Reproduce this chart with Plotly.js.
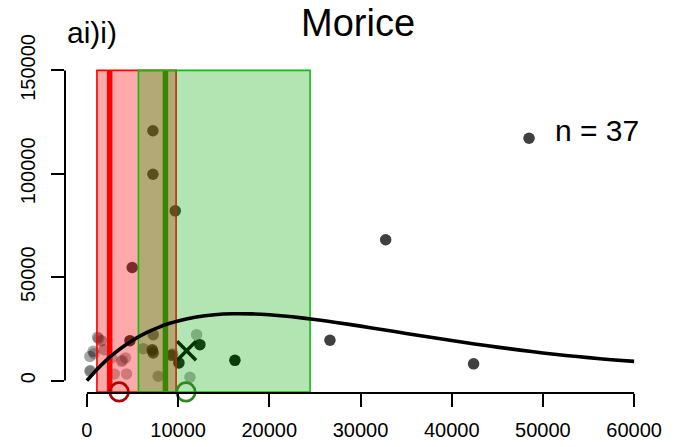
<!DOCTYPE html>
<html>
<head>
<meta charset="utf-8">
<script src="https://cdn.plot.ly/plotly-3.0.1.min.js"></script>
<style>
  html, body { margin: 0; padding: 0; background: #fff; }
  #chart { width: 681px; height: 447px; }
</style>
</head>
<body>
<div id="chart"></div>
<script>
// Spawner / recruit observations (n = 37) and per-point shading
const spawners = [48480, 32760, 26650, 42400, 16230, 7240, 7240, 9690, 4970,
  1170, 1610, 330, 690, 1900, 330, 2710, 3800, 4240, 4350, 3000, 4720,
  7270, 7160, 7270, 6180, 7820, 9290, 10090, 12030, 12390, 11300,
  800, 1300, 7200, 3900, 9400, 400];
const recruits = [117200, 68100, 19500, 8100, 9800, 120800, 99800, 82100, 54700,
  20900, 19300, 11700, 14150, 14970, 4500, 10960, 9320, 10960, 3230, 3230, 19310,
  22200, 14970, 13360, 15450, 2080, 12210, 8550, 22200, 17380, 1600,
  13000, 20200, 14300, 9800, 12900, 4900];
const pointAlpha = [0.75, 0.75, 0.75, 0.75, 0.95, 0.75, 0.75, 0.75, 0.75,
  0.35, 0.35, 0.35, 0.35, 0.35, 0.35, 0.28, 0.28, 0.28, 0.28, 0.28, 0.8,
  0.55, 0.7, 0.7, 0.35, 0.35, 0.7, 0.9, 0.3, 0.9, 0.3,
  0.25, 0.25, 0.4, 0.2, 0.4, 0.25];

// Fitted stock-recruit curve
const curveX = [0, 1000, 2000, 3000, 4000, 5000, 6000, 7000, 8000, 9000, 10000,
  12000, 14000, 16000, 18000, 20000, 22500, 25000, 27500, 30000, 32500, 35000,
  37500, 40000, 42500, 45000, 47500, 50000, 52500, 55000, 57500, 60000];
const curveY = [0, 4930, 9290, 13140, 16500, 19430, 21970, 24160, 26010, 27570, 28870,
  30750, 31850, 32310, 32270, 31830, 30860, 29550, 28010, 26330, 24580, 22810,
  21060, 19360, 17730, 16180, 14720, 13350, 12170, 11100, 10100, 9300];

// Reference intervals (red and green bands) and their central values
const redBand = [1100, 9780];
const greenBand = [5650, 24470];
const bandY = [-5500, 150000];
const redCentre = 2500;
const greenCentre = 8610;

// Summary markers
const crossPoint = [10930, 14480];
const redRing = [3540, -5500];
const greenRing = [10860, -5500];

// Axis ticks
const xTicks = [0, 10000, 20000, 30000, 40000, 50000, 60000];
const yTicks = [0, 50000, 100000, 150000];

const FONT = '"Liberation Sans", Arial, Helvetica, sans-serif';

function band(r, fill, edge) {
  return {
    type: 'scatter', mode: 'lines', hoverinfo: 'skip',
    x: [r[0], r[1], r[1], r[0], r[0]],
    y: [bandY[0], bandY[0], bandY[1], bandY[1], bandY[0]],
    fill: 'toself', fillcolor: fill,
    line: { color: edge, width: 1.6 }
  };
}
function vline(x, color) {
  return {
    type: 'scatter', mode: 'lines', hoverinfo: 'skip',
    x: [x, x], y: bandY,
    line: { color: color, width: 5.5 }
  };
}

const traces = [
  {
    type: 'scatter', mode: 'markers', x: spawners, y: recruits,
    marker: { color: '#000', size: 11.5, opacity: pointAlpha, line: { width: 0 } }
  },
  {
    type: 'scatter', mode: 'markers', x: [crossPoint[0]], y: [crossPoint[1]],
    marker: { symbol: 'x-thin-open', size: 19, color: '#000', line: { color: '#000', width: 3.5 } }
  },
  vline(redCentre, '#ff0000'),
  vline(greenCentre, '#00b400'),
  band(redBand, 'rgba(255,0,0,0.333)', '#ff0000'),
  band(greenBand, 'rgba(0,170,0,0.3)', '#11bb11'),
  {
    type: 'scatter', mode: 'lines', x: curveX, y: curveY,
    line: { color: '#000', width: 3.6, shape: 'spline', smoothing: 0.5 }
  },
  {
    type: 'scatter', mode: 'markers', cliponaxis: false,
    x: [redRing[0]], y: [redRing[1]],
    marker: { symbol: 'circle-open', size: 18.5, color: '#b00000', line: { color: '#b00000', width: 2.7 } }
  },
  {
    type: 'scatter', mode: 'markers', cliponaxis: false,
    x: [greenRing[0]], y: [greenRing[1]],
    marker: { symbol: 'circle-open', size: 18.5, color: '#2e8b22', line: { color: '#2e8b22', width: 2.7 } }
  }
];

const axisCommon = {
  showgrid: false, zeroline: false, showline: false,
  ticks: 'outside', ticklen: 13, tickwidth: 2, tickcolor: '#000',
  tickfont: { family: FONT, size: 20, color: '#000' }
};

const layout = {
  width: 681, height: 447,
  margin: { l: 65, r: 25, t: 58, b: 54 },
  paper_bgcolor: '#fff', plot_bgcolor: '#fff',
  showlegend: false,
  font: { family: FONT, color: '#000' },
  xaxis: Object.assign({}, axisCommon, {
    range: [-2400, 62400], tickvals: xTicks, ticktext: xTicks.map(String),
    ticklabelstandoff: 6
  }),
  yaxis: Object.assign({}, axisCommon, {
    range: [-6000, 156000], tickvals: yTicks, ticktext: yTicks.map(String),
    tickangle: -90, ticklabelstandoff: 8
  }),
  shapes: [
    { type: 'line', xref: 'x', yref: 'paper', x0: 0, x1: 60000, y0: 0, y1: 0,
      line: { color: '#000', width: 2 }, layer: 'above' },
    { type: 'line', xref: 'paper', yref: 'y', x0: 0, x1: 0, y0: 0, y1: 150000,
      line: { color: '#000', width: 2 }, layer: 'above' }
  ],
  annotations: [
    { text: 'Morice', xref: 'paper', yref: 'paper', x: 0.495, y: 1.105,
      xanchor: 'center', yanchor: 'middle', showarrow: false,
      font: { family: FONT, size: 38, color: '#000' } },
    { text: 'ai)i)', xref: 'paper', yref: 'paper', x: 0, y: 1.0776,
      xanchor: 'left', yanchor: 'middle', showarrow: false,
      font: { family: FONT, size: 30, color: '#000' } },
    { text: 'n = 37', xref: 'paper', yref: 'paper', x: 0.8257, y: 0.784,
      xanchor: 'left', yanchor: 'middle', showarrow: false,
      font: { family: FONT, size: 30, color: '#000' } }
  ]
};

Plotly.newPlot('chart', traces, layout, { staticPlot: true, displayModeBar: false });
</script>
</body>
</html>
